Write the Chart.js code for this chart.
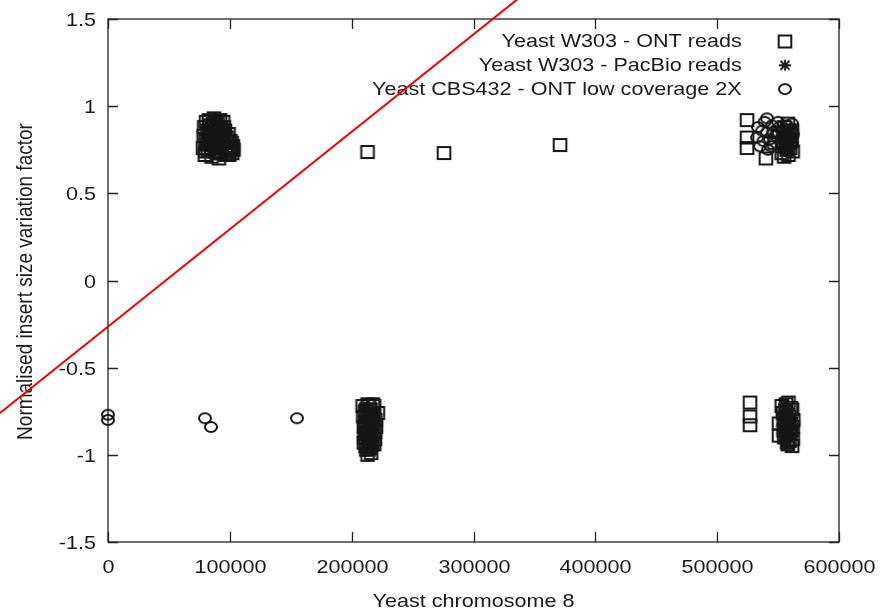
<!DOCTYPE html>
<html>
<head>
<meta charset="utf-8">
<script src="https://cdn.jsdelivr.net/npm/chart.js@4.4.1/dist/chart.umd.min.js"></script>
<style>
  html, body { margin: 0; padding: 0; background: #fff; }
  #wrap { width: 885px; height: 613px; }
</style>
</head>
<body>
<div id="wrap"><canvas id="insertChart" width="885" height="613"></canvas></div>
<script>
// tick values for both axes
const xTicks = [0, 100000, 200000, 300000, 400000, 500000, 600000];
const yTicks = [-1.5, -1, -0.5, 0, 0.5, 1, 1.5];

const seriesNames = [
  'Yeast W303 - ONT reads',
  'Yeast W303 - PacBio reads',
  'Yeast CBS432 - ONT low coverage 2X'
];

// ONT reads, W303
const ontTopLeft = [
  [78000, 0.76], [78500, 0.83], [79000, 0.88], [79500, 0.72], [80000, 0.80], [80500, 0.91],
  [81500, 0.86], [82000, 0.75], [83000, 0.92], [83500, 0.79], [84000, 0.84], [85000, 0.71],
  [85500, 0.88], [86500, 0.81], [87000, 0.93], [88000, 0.76], [88500, 0.86], [89500, 0.73],
  [90000, 0.90], [90500, 0.82], [91500, 0.78], [92000, 0.92], [92500, 0.87], [93500, 0.74],
  [94000, 0.83], [94500, 0.91], [95500, 0.79], [96000, 0.86], [96500, 0.72], [97500, 0.82],
  [98000, 0.77], [99000, 0.84], [99500, 0.74], [100500, 0.80], [101000, 0.76], [102000, 0.73],
  [103000, 0.75], [80000, 0.74], [86000, 0.90], [91000, 0.70],
  [81000, 0.78], [82500, 0.84], [84500, 0.76], [86000, 0.85], [87500, 0.74], [89000, 0.80],
  [90500, 0.87], [92000, 0.76], [93000, 0.80], [95000, 0.88], [96500, 0.77], [98500, 0.80],
  [100000, 0.77], [101500, 0.79], [83500, 0.89], [88500, 0.91], [93500, 0.85], [97000, 0.75],
  [85000, 0.80], [91500, 0.73], [99500, 0.72], [102500, 0.77]
];
const ontTopMid = [[213000, 0.737], [275800, 0.731], [371000, 0.777]];
const ontTopRight = [
  [524500, 0.92], [524500, 0.82], [524500, 0.76], [540000, 0.70], [547000, 0.79],
  [550000, 0.85], [553000, 0.73], [555000, 0.88], [556000, 0.77], [557500, 0.82],
  [558500, 0.72], [559000, 0.86], [560000, 0.76], [561000, 0.80], [562000, 0.74],
  [555000, 0.71], [558000, 0.90], [554000, 0.80], [556500, 0.84], [559500, 0.79],
  [561500, 0.86], [557000, 0.75], [553500, 0.77]
];
const ontBottomMid = [
  [209000, -0.72], [209500, -0.78], [210000, -0.84], [210500, -0.90], [211000, -0.75],
  [211500, -0.95], [212000, -0.81], [212500, -0.87], [213000, -0.71], [213500, -0.92],
  [214000, -0.78], [214500, -0.85], [215000, -0.96], [215500, -0.74], [216000, -0.89],
  [216500, -0.82], [217000, -0.93], [217500, -0.77], [218000, -0.86], [218500, -0.72],
  [219000, -0.91], [219500, -0.80], [220000, -0.84], [221500, -0.76], [212000, -0.97],
  [213000, -1.0], [216000, -0.99], [211000, -0.82], [212000, -0.74], [213500, -0.83],
  [214500, -0.72], [215000, -0.80], [216500, -0.94], [217500, -0.71], [218000, -0.79],
  [219000, -0.87], [214000, -0.97], [210000, -0.93], [217000, -0.84], [211500, -0.88],
  [215500, -0.87], [218500, -0.94], [213000, -0.76], [216000, -0.78], [214000, -0.89]
];
const ontBottomRight = [
  [527000, -0.70], [527000, -0.78], [527000, -0.83], [550800, -0.82], [550800, -0.89],
  [553000, -0.72], [554500, -0.80], [555000, -0.90], [556000, -0.75], [557000, -0.85],
  [557500, -0.93], [558500, -0.70], [559000, -0.78], [560000, -0.88], [560500, -0.82],
  [561500, -0.74], [562000, -0.91], [562500, -0.80], [561000, -0.86], [558000, -0.94],
  [554000, -0.76], [555500, -0.84], [556500, -0.71], [558000, -0.81], [559500, -0.92],
  [560500, -0.73], [562000, -0.84], [557000, -0.78], [556000, -0.88], [559000, -0.86],
  [561500, -0.95], [554500, -0.86]
];

// PacBio reads, W303
const pacbioTopLeft = [
  [82000, 0.80], [84000, 0.88], [86000, 0.76], [88000, 0.83], [89000, 0.90], [90000, 0.78],
  [91000, 0.86], [92000, 0.81], [93000, 0.75], [94000, 0.88], [95000, 0.80], [96000, 0.84],
  [97000, 0.78], [98000, 0.81], [85000, 0.83], [87000, 0.79], [83000, 0.77], [89500, 0.85],
  [91000, 0.91], [94500, 0.77], [99000, 0.78], [87500, 0.88], [92500, 0.84], [96000, 0.80]
];
const pacbioTopRight = [
  [552000, 0.80], [554000, 0.84], [556000, 0.78], [558000, 0.82], [560000, 0.79],
  [557000, 0.87], [555000, 0.75], [559000, 0.74], [561000, 0.83]
];
const pacbioBottomMid = [
  [210000, -0.80], [211500, -0.86], [213000, -0.78], [214000, -0.90], [215000, -0.83],
  [216000, -0.76], [217000, -0.88], [218000, -0.81], [212500, -0.93], [215500, -0.96],
  [211000, -0.73], [213500, -0.86], [216500, -0.85], [219000, -0.76], [214500, -0.94],
  [212000, -0.90], [217500, -0.90], [215000, -0.75]
];
const pacbioBottomRight = [
  [555000, -0.78], [556500, -0.86], [558000, -0.74], [559000, -0.83], [560000, -0.91],
  [561000, -0.79], [557500, -0.89], [556000, -0.93], [558500, -0.90], [560500, -0.86],
  [555000, -0.71], [557000, -0.81]
];

// CBS432, low coverage ONT
const cbsLeft = [[0, -0.77], [0, -0.80], [79600, -0.79], [84500, -0.84], [155100, -0.79]];
const cbsTopRight = [
  [540900, 0.93], [533500, 0.88], [540900, 0.85], [532700, 0.82], [543400, 0.81],
  [535200, 0.77], [541700, 0.75], [545000, 0.89], [538000, 0.80], [548000, 0.83],
  [561400, 0.90], [561400, 0.86], [561400, 0.82], [561400, 0.79], [553200, 0.86],
  [550000, 0.91], [557000, 0.89], [562000, 0.84], [537000, 0.86], [544000, 0.77],
  [539000, 0.91], [546000, 0.85], [551000, 0.88]
];

// red reference line, ends run off the canvas
const redLine = [[-100000, -0.824], [360000, 1.747]];

const toXY = arr => arr.map(([x, y]) => ({ x, y }));

const FONT = '"Liberation Sans", Arial, sans-serif';
const STRETCH = 1.16;
const INK = '#1a1a1a';

function makeMarker(kind) {
  const c = document.createElement('canvas');
  c.width = 18;
  c.height = 16;
  const g = c.getContext('2d');
  g.strokeStyle = '#161616';
  g.lineWidth = 2;
  const cx = 9, cy = 8;
  if (kind === 'square') {
    g.strokeRect(cx - 6.3, cy - 6, 12.6, 12);
  } else if (kind === 'circle') {
    g.beginPath();
    g.ellipse(cx, cy, 6, 5, 0, 0, Math.PI * 2);
    g.stroke();
  } else {
    g.lineWidth = 1.8;
    g.beginPath();
    g.moveTo(cx - 6, cy); g.lineTo(cx + 6, cy);
    g.moveTo(cx, cy - 5.5); g.lineTo(cx, cy + 5.5);
    g.moveTo(cx - 4.5, cy - 4.5); g.lineTo(cx + 4.5, cy + 4.5);
    g.moveTo(cx - 4.5, cy + 4.5); g.lineTo(cx + 4.5, cy - 4.5);
    g.stroke();
  }
  return c;
}

const markers = [makeMarker('square'), makeMarker('star'), makeMarker('circle')];

function wideText(ctx, text, x, y, align, rotated) {
  ctx.save();
  ctx.translate(x, y);
  if (rotated) {
    ctx.rotate(-Math.PI / 2);
    ctx.scale(1, STRETCH);
  } else {
    ctx.scale(STRETCH, 1);
  }
  ctx.textAlign = align;
  ctx.textBaseline = 'alphabetic';
  ctx.fillText(text, 0, 0);
  ctx.restore();
}

// gnuplot-like frame: box, inward ticks on all sides, labels, titles, key
const framePlugin = {
  id: 'frame',
  beforeDatasetsDraw(chart) {
    const { ctx, chartArea: a, scales } = chart;
    const tick = 10;
    ctx.save();
    ctx.strokeStyle = '#222';
    ctx.lineWidth = 1.3;
    ctx.strokeRect(a.left, a.top, a.right - a.left, a.bottom - a.top);

    ctx.fillStyle = INK;
    ctx.font = '18.6px ' + FONT;
    ctx.beginPath();
    scales.x.ticks.forEach(t => {
      const px = Math.round(scales.x.getPixelForValue(t.value)) + 0.5;
      ctx.moveTo(px, a.bottom); ctx.lineTo(px, a.bottom - tick);
      ctx.moveTo(px, a.top); ctx.lineTo(px, a.top + tick);
      wideText(ctx, String(t.value), px, a.bottom + 30.7, 'center');
    });
    scales.y.ticks.forEach(t => {
      const py = Math.round(scales.y.getPixelForValue(t.value)) + 0.5;
      ctx.moveTo(a.left, py); ctx.lineTo(a.left + tick, py);
      ctx.moveTo(a.right, py); ctx.lineTo(a.right - tick, py);
      wideText(ctx, String(t.value), 96, py + 6.7, 'right');
    });
    ctx.stroke();

    wideText(ctx, 'Yeast chromosome 8', (a.left + a.right) / 2, 607, 'center');
    ctx.font = '19px ' + FONT;
    wideText(ctx, 'Normalised insert size variation factor', 31.5, 281.5, 'center', true);

    // key, text right-aligned with the symbol after it
    ctx.font = '18.6px ' + FONT;
    seriesNames.forEach((name, i) => {
      const base = 47.3 + i * 23.8;
      wideText(ctx, name, 741.7, base, 'right');
      const m = markers[i];
      ctx.drawImage(m, 785 - m.width / 2, base - 5.8 - m.height / 2);
    });
    ctx.restore();
  }
};

const pointSet = (label, data, marker) => ({
  label,
  data: toXY(data),
  pointStyle: marker,
  pointRadius: 7,
  showLine: false,
  clip: false
});

new Chart(document.getElementById('insertChart'), {
  type: 'scatter',
  data: {
    datasets: [
      {
        label: 'fit',
        data: toXY(redLine),
        showLine: true,
        borderColor: '#f00000',
        borderWidth: 2,
        pointRadius: 0,
        clip: false
      },
      pointSet(seriesNames[0], [...ontTopLeft, ...ontTopMid, ...ontTopRight, ...ontBottomMid, ...ontBottomRight], markers[0]),
      pointSet(seriesNames[1], [...pacbioTopLeft, ...pacbioTopRight, ...pacbioBottomMid, ...pacbioBottomRight], markers[1]),
      pointSet(seriesNames[2], [...cbsLeft, ...cbsTopRight], markers[2])
    ]
  },
  options: {
    responsive: false,
    animation: false,
    events: [],
    layout: { padding: { left: 0, top: 19, right: 46, bottom: 0 } },
    plugins: { legend: { display: false }, tooltip: { enabled: false } },
    scales: {
      x: {
        type: 'linear',
        min: xTicks[0],
        max: xTicks[xTicks.length - 1],
        afterBuildTicks: s => { s.ticks = xTicks.map(v => ({ value: v })); },
        afterFit: s => { s.height = 71; },
        ticks: { display: false },
        grid: { display: false },
        border: { display: false }
      },
      y: {
        type: 'linear',
        min: yTicks[0],
        max: yTicks[yTicks.length - 1],
        afterBuildTicks: s => { s.ticks = yTicks.map(v => ({ value: v })); },
        afterFit: s => { s.width = 108; },
        ticks: { display: false },
        grid: { display: false },
        border: { display: false }
      }
    }
  },
  plugins: [framePlugin]
});
</script>
</body>
</html>
